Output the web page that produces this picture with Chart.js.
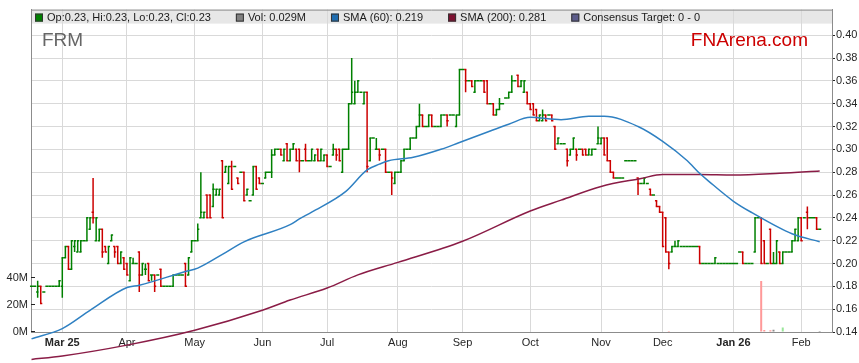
<!DOCTYPE html>
<html>
<head>
<meta charset="utf-8">
<script src="https://cdn.jsdelivr.net/npm/chart.js@4.4.1/dist/chart.umd.min.js"></script>
<style>
  html, body { margin: 0; padding: 0; background: #fff; }
  #wrap { width: 859px; height: 363px; position: relative; }
</style>
</head>
<body>
<div id="wrap"><canvas id="chart"></canvas></div>
<script>
// one row per weekday: [open, high, low, close], or a single price for a flat day
// weekday index 0 = Mon 3 Mar 2025, the first bar is 10 weekdays earlier
const firstDay = -10;

const feb25 = [0.18, 0.18, [0.175, 0.185, 0.17, 0.18], [0.18, 0.18, 0.165, 0.165], 0.175,
  0.18, 0.18, 0.18, 0.18, [0.18, 0.185, 0.18, 0.185]];
const mar25 = [[0.18, 0.205, 0.17, 0.205], [0.205, 0.215, 0.205, 0.215], [0.215, 0.215, 0.195, 0.195],
  [0.195, 0.22, 0.195, 0.22], [0.215, 0.22, 0.21, 0.22], [0.21, 0.22, 0.21, 0.22], [0.21, 0.22, 0.21, 0.22],
  0.22, [0.22, 0.24, 0.22, 0.24], [0.23, 0.24, 0.23, 0.24], [0.245, 0.275, 0.235, 0.24],
  [0.22, 0.24, 0.22, 0.24], [0.22, 0.23, 0.22, 0.23], [0.23, 0.23, 0.205, 0.21], [0.215, 0.215, 0.21, 0.21],
  [0.20, 0.215, 0.20, 0.215], [0.22, 0.225, 0.22, 0.225], [0.215, 0.215, 0.205, 0.21],
  [0.215, 0.215, 0.20, 0.20], [0.20, 0.21, 0.20, 0.21], [0.205, 0.205, 0.195, 0.195]];
const apr25 = [[0.20, 0.20, 0.19, 0.19], [0.185, 0.205, 0.185, 0.205], [0.20, 0.205, 0.20, 0.20], 0.20,
  [0.21, 0.21, 0.175, 0.19], [0.19, 0.20, 0.19, 0.20], [0.195, 0.20, 0.19, 0.195], [0.20, 0.20, 0.185, 0.185],
  [0.19, 0.19, 0.185, 0.19], [0.19, 0.19, 0.175, 0.18], 0.19, [0.195, 0.195, 0.18, 0.18], 0.18, 0.18, 0.18,
  [0.18, 0.19, 0.18, 0.19], 0.19, 0.19, 0.19, [0.20, 0.20, 0.18, 0.18], [0.19, 0.205, 0.19, 0.205],
  [0.21, 0.22, 0.21, 0.22]];
const may25 = [0.22, [0.22, 0.235, 0.22, 0.23], [0.24, 0.28, 0.24, 0.245], [0.24, 0.245, 0.24, 0.245],
  [0.26, 0.26, 0.24, 0.24], [0.26, 0.26, 0.24, 0.24], [0.25, 0.27, 0.25, 0.265], [0.26, 0.265, 0.26, 0.265],
  [0.26, 0.265, 0.26, 0.265], [0.29, 0.29, 0.24, 0.24], [0.28, 0.285, 0.28, 0.285], [0.27, 0.285, 0.27, 0.285],
  [0.285, 0.29, 0.265, 0.265], 0.285, [0.275, 0.275, 0.27, 0.27], 0.28, [0.28, 0.28, 0.255, 0.255],
  [0.26, 0.265, 0.26, 0.265], 0.255, [0.26, 0.285, 0.26, 0.285], [0.285, 0.285, 0.265, 0.265],
  [0.275, 0.275, 0.27, 0.27]];
const jun25 = [0.27, [0.275, 0.28, 0.275, 0.28], 0.28, [0.28, 0.30, 0.275, 0.295], [0.295, 0.30, 0.295, 0.30],
  0.30, [0.30, 0.30, 0.295, 0.295], [0.29, 0.30, 0.29, 0.30], [0.305, 0.305, 0.29, 0.29], [0.29, 0.30, 0.29, 0.30],
  [0.30, 0.305, 0.30, 0.305], [0.30, 0.30, 0.29, 0.29], [0.30, 0.30, 0.28, 0.29], 0.29, [0.30, 0.305, 0.29, 0.29],
  0.29, [0.29, 0.30, 0.29, 0.30], [0.29, 0.295, 0.29, 0.295], [0.30, 0.30, 0.29, 0.29], [0.29, 0.30, 0.29, 0.30],
  [0.29, 0.295, 0.29, 0.295]];
const jul25 = [[0.295, 0.295, 0.285, 0.285], 0.285, [0.295, 0.305, 0.295, 0.30], [0.30, 0.30, 0.29, 0.295],
  [0.30, 0.30, 0.29, 0.29], [0.28, 0.30, 0.28, 0.30], 0.30, [0.30, 0.34, 0.30, 0.34], [0.34, 0.38, 0.34, 0.35],
  [0.34, 0.36, 0.34, 0.35], [0.35, 0.36, 0.35, 0.36], 0.35, [0.34, 0.35, 0.34, 0.35], [0.35, 0.35, 0.28, 0.285],
  [0.29, 0.31, 0.29, 0.31], 0.31, [0.30, 0.31, 0.30, 0.30], [0.30, 0.30, 0.29, 0.295], 0.30,
  [0.30, 0.30, 0.28, 0.28], 0.28, [0.28, 0.28, 0.26, 0.275], [0.27, 0.28, 0.27, 0.28]];
const aug25 = [0.28, [0.28, 0.29, 0.28, 0.29], [0.29, 0.30, 0.29, 0.30], 0.30, [0.30, 0.31, 0.30, 0.31], 0.31,
  [0.31, 0.32, 0.31, 0.32], [0.32, 0.34, 0.32, 0.33], [0.33, 0.33, 0.32, 0.32], 0.32, [0.32, 0.33, 0.32, 0.33],
  [0.33, 0.33, 0.32, 0.32], 0.32, 0.32, [0.32, 0.33, 0.32, 0.33], 0.33, [0.33, 0.33, 0.32, 0.325], 0.33, 0.33,
  [0.32, 0.33, 0.32, 0.33], [0.33, 0.37, 0.33, 0.37]];
const sep25 = [0.37, [0.37, 0.37, 0.35, 0.36], 0.36, [0.36, 0.36, 0.355, 0.355], [0.35, 0.36, 0.35, 0.36], 0.36,
  0.36, [0.36, 0.36, 0.35, 0.35], [0.36, 0.36, 0.34, 0.34], 0.34, [0.34, 0.34, 0.33, 0.33],
  [0.33, 0.335, 0.33, 0.335], [0.335, 0.345, 0.335, 0.34], 0.34, 0.345, [0.345, 0.35, 0.345, 0.35],
  [0.35, 0.365, 0.35, 0.36], 0.36, [0.365, 0.365, 0.355, 0.355], [0.355, 0.36, 0.355, 0.36],
  [0.35, 0.36, 0.35, 0.36], [0.35, 0.35, 0.34, 0.34]];
const oct25 = [[0.34, 0.34, 0.335, 0.335], [0.34, 0.34, 0.33, 0.33], [0.335, 0.335, 0.325, 0.325],
  [0.325, 0.33, 0.325, 0.33], [0.325, 0.335, 0.325, 0.33], [0.33, 0.33, 0.325, 0.325], 0.33,
  [0.33, 0.33, 0.325, 0.325], [0.32, 0.32, 0.30, 0.30], [0.305, 0.31, 0.305, 0.31], 0.305, 0.305,
  [0.30, 0.30, 0.285, 0.29], [0.295, 0.30, 0.295, 0.30], [0.30, 0.31, 0.30, 0.31], [0.30, 0.30, 0.29, 0.295],
  0.30, [0.30, 0.30, 0.295, 0.295], [0.30, 0.30, 0.295, 0.295], [0.295, 0.30, 0.295, 0.30],
  [0.295, 0.30, 0.295, 0.30], 0.30, [0.305, 0.32, 0.305, 0.31]];
const nov25 = [[0.305, 0.31, 0.305, 0.31], [0.31, 0.31, 0.295, 0.295], [0.31, 0.31, 0.29, 0.29],
  [0.29, 0.29, 0.28, 0.28], [0.28, 0.28, 0.275, 0.275], 0.275, 0.275, 0.275, 0.29, 0.29, 0.29, 0.29,
  [0.275, 0.275, 0.26, 0.27], 0.27, [0.27, 0.275, 0.27, 0.275], 0.27, [0.265, 0.265, 0.26, 0.26], 0.26,
  [0.255, 0.255, 0.25, 0.25], [0.25, 0.25, 0.245, 0.245]];
const dec25 = [[0.245, 0.245, 0.215, 0.215], [0.24, 0.24, 0.21, 0.21], [0.21, 0.21, 0.195, 0.20],
  [0.21, 0.215, 0.21, 0.215], [0.215, 0.22, 0.215, 0.215], [0.215, 0.22, 0.215, 0.22], 0.215, 0.215, 0.215,
  0.215, 0.215, 0.215, [0.215, 0.215, 0.20, 0.20], 0.20, 0.20, 0.20, 0.20, [0.20, 0.205, 0.20, 0.205],
  0.20, 0.20, 0.20, 0.20, 0.20];
const jan26 = [0.20, 0.20, 0.21, [0.21, 0.21, 0.20, 0.20], 0.20, 0.20, 0.20, [0.21, 0.24, 0.21, 0.24], 0.24,
  [0.24, 0.24, 0.20, 0.20], [0.22, 0.22, 0.20, 0.20], 0.20, [0.23, 0.23, 0.20, 0.20], [0.20, 0.21, 0.20, 0.20],
  [0.20, 0.22, 0.20, 0.22], [0.21, 0.21, 0.20, 0.20], [0.20, 0.21, 0.20, 0.21], 0.21, 0.21,
  [0.21, 0.22, 0.21, 0.22], [0.22, 0.23, 0.22, 0.23], [0.22, 0.24, 0.22, 0.24]];
const feb26 = [[0.24, 0.24, 0.22, 0.22], 0.24, [0.245, 0.25, 0.23, 0.24], 0.24, 0.24, [0.24, 0.24, 0.23, 0.23], 0.23];

const monthLabels = ['Mar 25', 'Apr', 'May', 'Jun', 'Jul', 'Aug', 'Sep', 'Oct', 'Nov', 'Dec', 'Jan 26', 'Feb'];

// volume in millions, only days with a visible bar (plus the last day)
const volDays = [197, 227, 228, 230, 231, 234, 246];
const volMillions = [0.8, 37.5, 1.4, 1.2, 1.6, 3.4, 0.029];

// moving averages
const sma60Days = [-10, 0, 9, 21, 25, 40, 44, 52, 59, 74, 77, 81, 92, 99, 103, 106, 114, 123, 129, 139,
  145, 152, 162, 171, 176, 187, 195, 203, 207, 210, 218, 224, 237, 246];
const sma60 = [0.134, 0.143, 0.159, 0.179, 0.181, 0.193, 0.196, 0.208, 0.219, 0.234, 0.239, 0.245, 0.263,
  0.282, 0.287, 0.290, 0.293, 0.300, 0.306, 0.316, 0.322, 0.328, 0.326, 0.329, 0.329, 0.320, 0.307, 0.290,
  0.279, 0.272, 0.2545, 0.2445, 0.226, 0.219];
const sma200Days = [-10, 0, 21, 43, 65, 74, 86, 96, 109, 130, 152, 162, 175, 188, 195, 207, 218, 233, 246];
const sma200 = [0.116, 0.119, 0.1285, 0.1415, 0.159, 0.168, 0.1785, 0.190, 0.201, 0.2195, 0.246, 0.2555,
  0.2675, 0.2745, 0.278, 0.278, 0.2775, 0.279, 0.281];

const priceTicks = [0.14, 0.16, 0.18, 0.20, 0.22, 0.24, 0.26, 0.28, 0.30, 0.32, 0.34, 0.36, 0.38, 0.40];
const volTicks = [0, 20, 40];

const months = [feb25, mar25, apr25, may25, jun25, jul25, aug25, sep25, oct25, nov25, dec25, jan26, feb26];
const bars = months.flat().map((r, i) => {
  const [o, h, l, c] = Array.isArray(r) ? r : [r, r, r, r];
  return { x: firstDay + i, o, h, l, c };
});
const monthStarts = [];
let dayCount = firstDay;
months.forEach((m, k) => { if (k > 0) monthStarts.push(dayCount); dayCount += m.length; });

const UP = '#008000', DOWN = '#cc0000';
const barColor = b => (b.c < b.o ? DOWN : UP);
const volColor = d => {
  const b = bars[d - firstDay];
  return b.c < b.o ? '#ff9999' : (b.c > b.o ? '#99e699' : '#8c8c8c');
};
const FONT = 'Arial, "Liberation Sans", sans-serif';

Chart.defaults.font.family = FONT;
Chart.defaults.font.size = 11;
Chart.defaults.color = '#262626';

// open / close ticks on each bar
const ohlcTicks = {
  id: 'ohlcTicks',
  afterDatasetDraw(chart, args) {
    if (chart.data.datasets[args.index].label !== 'FRM') return;
    const {ctx, scales: {x, y}} = chart;
    const half = (x.getPixelForValue(1) - x.getPixelForValue(0)) / 2;
    ctx.save();
    ctx.lineWidth = 1.5;
    bars.forEach((b, i) => {
      const px = args.meta.data[i].x;
      ctx.strokeStyle = barColor(b);
      ctx.beginPath();
      ctx.moveTo(px - half, y.getPixelForValue(b.o));
      ctx.lineTo(px + 0.75, y.getPixelForValue(b.o));
      ctx.moveTo(px - 0.75, y.getPixelForValue(b.c));
      ctx.lineTo(px + half, y.getPixelForValue(b.c));
      ctx.stroke();
    });
    ctx.restore();
  }
};

// legend band, frame, watermarks
const frame = {
  id: 'frame',
  beforeDraw(chart) {
    const {ctx, chartArea: {left, right, top}} = chart;
    ctx.save();
    ctx.fillStyle = '#e7e7e7';
    ctx.fillRect(left, top, right - left, 14);
    ctx.restore();
  },
  afterDraw(chart) {
    const {ctx, chartArea: {left, right, top}, scales: {yVol}} = chart;
    ctx.save();
    ctx.strokeStyle = '#8c8c8c';
    ctx.lineWidth = 1;
    ctx.beginPath();
    ctx.moveTo(left, top + 0.5);
    ctx.lineTo(right, top + 0.5);
    ctx.stroke();

    ctx.strokeStyle = '#222';
    volTicks.forEach(v => {
      const py = Math.round(yVol.getPixelForValue(v)) - 0.5;
      ctx.beginPath();
      ctx.moveTo(left, py);
      ctx.lineTo(left + 4, py);
      ctx.stroke();
    });

    const last = bars[bars.length - 1];
    const f2 = v => v.toFixed(2);
    const items = [
      [UP, `Op:${f2(last.o)}, Hi:${f2(last.h)}, Lo:${f2(last.l)}, Cl:${f2(last.c)}`],
      ['#808080', `Vol: ${volMillions[volMillions.length - 1]}M`],
      ['#1f6db0', `SMA (60): ${sma60[sma60.length - 1].toFixed(3)}`],
      ['#7d1030', `SMA (200): ${sma200[sma200.length - 1].toFixed(3)}`],
      ['#5c5c8c', 'Consensus Target: 0 - 0']
    ];
    ctx.font = `11px ${FONT}`;
    ctx.textBaseline = 'middle';
    let sx = left + 4;
    items.forEach(([col, text]) => {
      ctx.fillStyle = col;
      ctx.fillRect(sx, top + 4, 8, 8);
      ctx.strokeStyle = '#333';
      ctx.strokeRect(sx + 0.5, top + 4.5, 7, 7);
      ctx.fillStyle = '#1a1a1a';
      ctx.fillText(text, sx + 12, top + 8);
      sx += 12 + ctx.measureText(text).width + 25;
    });

    ctx.font = `19px ${FONT}`;
    ctx.textBaseline = 'alphabetic';
    ctx.fillStyle = '#666666';
    ctx.textAlign = 'left';
    ctx.fillText('FRM', left + 11, top + 36);
    ctx.fillStyle = '#cc0000';
    ctx.textAlign = 'right';
    ctx.fillText('FNArena.com', right - 24, top + 36);
    ctx.restore();
  }
};

const config = {
  type: 'line',
  data: {
    datasets: [
      {
        label: 'SMA (60)',
        data: sma60Days.map((d, i) => ({x: d, y: sma60[i]})),
        borderColor: '#2f80c2',
        borderWidth: 1.5,
        pointRadius: 0,
        cubicInterpolationMode: 'monotone',
        clip: false,
        yAxisID: 'y',
        order: 0
      },
      {
        label: 'SMA (200)',
        data: sma200Days.map((d, i) => ({x: d, y: sma200[i]})),
        borderColor: '#8a1c46',
        borderWidth: 1.5,
        pointRadius: 0,
        cubicInterpolationMode: 'monotone',
        clip: false,
        yAxisID: 'y',
        order: 0
      },
      {
        type: 'bar',
        label: 'FRM',
        data: bars.map(b => ({x: b.x, y: [b.l, b.h]})),
        backgroundColor: bars.map(barColor),
        barThickness: 1.5,
        inflateAmount: 0,
        grouped: false,
        yAxisID: 'y',
        order: 1
      },
      {
        type: 'bar',
        label: 'Vol',
        data: volDays.map((d, i) => ({x: d, y: volMillions[i]})),
        backgroundColor: volDays.map(volColor),
        barThickness: 2,
        inflateAmount: 0,
        grouped: false,
        yAxisID: 'yVol',
        order: 2
      }
    ]
  },
  options: {
    responsive: true,
    maintainAspectRatio: false,
    animation: false,
    layout: { padding: { top: 3, left: 0, right: 0, bottom: 0 } },
    plugins: { legend: { display: false }, tooltip: { enabled: false } },
    scales: {
      x: {
        type: 'linear',
        min: -10.165,
        max: 250,
        offset: false,
        afterBuildTicks: scale => { scale.ticks = monthStarts.map(v => ({value: v})); },
        afterFit: scale => { scale.height = 31; },
        grid: { color: '#d9d9d9', drawTicks: false, offset: false },
        border: { color: '#8c8c8c' },
        ticks: {
          autoSkip: false,
          maxRotation: 0,
          padding: 4,
          color: '#262626',
          callback: v => monthLabels[monthStarts.indexOf(v)],
          font: ctx => ({ size: 11, weight: ctx.tick && String(ctx.tick.label).includes(' ') ? 'bold' : 'normal' })
        }
      },
      y: {
        position: 'right',
        min: 0.14,
        max: 0.4224,
        afterBuildTicks: scale => { scale.ticks = priceTicks.map(v => ({value: v})); },
        afterFit: scale => { scale.width = 27; },
        grid: { color: '#d9d9d9', tickLength: 3, tickColor: '#222' },
        border: { color: '#8c8c8c' },
        ticks: { padding: 1, color: '#262626', callback: v => v.toFixed(2) }
      },
      yVol: {
        position: 'left',
        min: 0,
        max: 237.5,
        afterBuildTicks: scale => { scale.ticks = volTicks.map(v => ({value: v})); },
        afterFit: scale => { scale.width = 31; },
        grid: { drawOnChartArea: false, drawTicks: false },
        border: { color: '#8c8c8c' },
        ticks: { padding: 3, color: '#262626', callback: v => v + 'M' }
      }
    }
  },
  plugins: [frame, ohlcTicks]
};

const myChart = new Chart(document.getElementById('chart'), config);
</script>
</body>
</html>
